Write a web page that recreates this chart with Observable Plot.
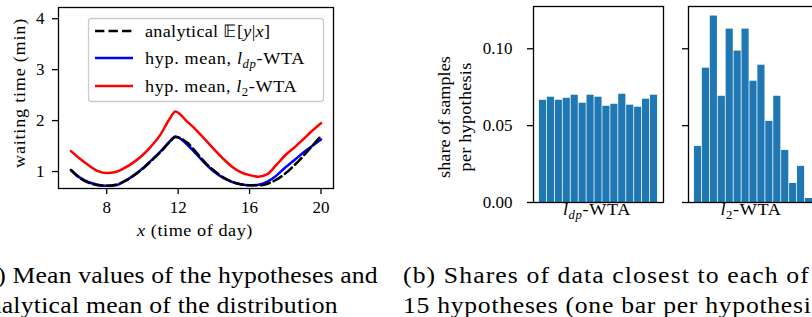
<!DOCTYPE html>
<html><head><meta charset="utf-8">
<script src="https://cdn.jsdelivr.net/npm/d3@7"></script>
<script src="https://cdn.jsdelivr.net/npm/@observablehq/plot@0.6"></script>
<style>
html,body{margin:0;padding:0;background:#fff;overflow:hidden;}
body{width:812px;height:317px;position:relative;font-family:"Liberation Serif",serif;}
.abs{position:absolute;top:0;}
svg{max-width:none !important;}
svg text{font-family:"Liberation Serif",serif !important;}
</style></head><body>
<div id="a" class="abs" style="left:0px;width:340px"></div>
<div id="b1" class="abs" style="left:400px;width:270px"></div>
<div id="b2" class="abs" style="left:640px;width:185px"></div>
<svg id="ov" class="abs" style="left:0;z-index:5" width="812" height="317"></svg>
<script>
// ---------- data ----------
const timeOfDay = [6,6.5,7,7.5,8,8.5,9,9.5,10,10.5,11,11.5,11.85,12.5,13,13.5,14,14.5,15,15.5,16,16.5,17,17.5,18,18.5,19,19.5,20];
const analyticalMean = [1.03,0.87,0.78,0.73,0.72,0.74,0.81,0.92,1.05,1.21,1.38,1.57,1.68,1.57,1.38,1.18,1.02,0.89,0.80,0.75,0.73,0.73,0.76,0.84,0.96,1.12,1.30,1.50,1.70];
const ldpHypMean = [1.03,0.88,0.79,0.74,0.72,0.73,0.81,0.92,1.06,1.22,1.39,1.58,1.69,1.53,1.35,1.16,1.00,0.88,0.80,0.75,0.73,0.74,0.80,0.92,1.08,1.22,1.37,1.50,1.63];
const l2HypMean = [1.40,1.25,1.12,1.01,0.97,0.99,1.07,1.18,1.32,1.50,1.72,2.02,2.18,1.98,1.82,1.63,1.44,1.26,1.10,0.99,0.93,0.90,0.95,1.13,1.32,1.47,1.63,1.80,1.95];
const xTicks = [8,12,16,20];
const yTicksLeft = [1,2,3,4];

const hypothesisIndex = [0,1,2,3,4,5,6,7,8,9,10,11,12,13,14];
const ldpShares = [0.0665,0.0685,0.0665,0.0678,0.0698,0.0646,0.0698,0.0685,0.0626,0.0639,0.0704,0.0633,0.0620,0.0672,0.0698];
const l2Shares = [0.0365,0.0874,0.1213,0.0691,0.1128,0.0985,0.1128,0.0789,0.0893,0.0528,0.0691,0.0339,0.0124,0.0235,0.0026];
const yTicksRight = [0, 0.05, 0.10];

const FONT = "Liberation Serif, serif";
const BAR = "#1f77b4";

// ---------- left: line chart ----------
const left = Plot.plot({
  width: 340, height: 250,
  marginLeft: 58, marginRight: 7, marginTop: 7, marginBottom: 62,
  style: {fontFamily: FONT, fontSize: "17px", color: "black", background: "transparent"},
  x: {domain: [5.3, 20.7]},
  y: {domain: [0.667, 4.22]},
  marks: [
    Plot.line(timeOfDay, {x: timeOfDay, y: ldpHypMean, stroke: "#0000ff", strokeWidth: 2.5, curve: "monotone-x"}),
    Plot.line(timeOfDay, {x: timeOfDay, y: analyticalMean, stroke: "black", strokeWidth: 2.5, strokeDasharray: "9.4,4.1", curve: "monotone-x"}),
    Plot.line(timeOfDay, {x: timeOfDay, y: l2HypMean, stroke: "#ff0000", strokeWidth: 2.5, curve: "monotone-x"}),
    Plot.axisX({ticks: xTicks, tickSize: 6, tickPadding: 6, label: null, strokeWidth: 1.3, tickFormat: d => String(d)}),
    Plot.axisY({ticks: yTicksLeft, tickSize: 6, tickPadding: 8, label: null, strokeWidth: 1.3, tickFormat: d => String(d)}),
    Plot.frame({stroke: "black", strokeWidth: 1.3})
  ]
});
document.getElementById("a").appendChild(left);

// ---------- right: bar panels ----------
function panel(shares, ml, mr, showLabels) {
  return Plot.plot({
    width: ml + 130 + mr, height: 250,
    marginLeft: ml, marginRight: mr, marginTop: 6, marginBottom: 48,
    style: {fontFamily: FONT, fontSize: "17px", color: "black", background: "transparent"},
    x: {type: "band", domain: hypothesisIndex, paddingInner: 0.1, paddingOuter: 0.745, round: false, axis: null},
    y: {domain: [0, 0.1275], axis: null},
    marks: [
      Plot.barY(shares, {x: hypothesisIndex, y: shares, fill: BAR}),
      Plot.axisY({ticks: yTicksRight, tickSize: 6, tickPadding: 15, label: null, strokeWidth: 1.3,
        tickFormat: showLabels ? d3.format(".2f") : () => ""}),
      Plot.frame({stroke: "black", strokeWidth: 1.3})
    ]
  });
}
document.getElementById("b1").appendChild(panel(ldpShares, 133, 7, true));
document.getElementById("b2").appendChild(panel(l2Shares, 48, 7, false));

// ---------- texts, legend, captions ----------
const ov = d3.select("#ov");
function measure(str, size) {
  const t = ov.append("text").style("font-size", size + "px").style("font-family", FONT).text(str);
  const w = t.node().getBBox().width; t.remove(); return w;
}
// width fitting: mild glyph stretch (max 7%) plus letter-spacing for the rest
function label(parts, {x, y, anchor = "start", rotate = 0, width = null, size = 17, fitText = null}) {
  const t = ov.append("text").attr("text-anchor", anchor)
    .style("font-size", size + "px").style("font-family", FONT).attr("fill", "black");
  let shift = 0;
  for (const p of parts) {
    const ts = t.append("tspan").text(p.t);
    if (p.it) ts.style("font-style", "italic");
    const want = p.sub ? size * 0.24 : 0;
    if (p.sub) ts.style("font-size", (size * 0.7) + "px");
    if (want !== shift) { ts.attr("dy", want - shift); shift = want; }
  }
  let s = 1;
  if (width) {
    const bw = fitText ? measure(fitText, size) : t.node().getBBox().width;
    const n = fitText ? fitText.length : t.node().textContent.length;
    s = Math.min(width / bw, 1.07);
    const ls = (width / s - bw) / n;
    t.style("letter-spacing", ls + "px");
  }
  t.attr("transform", `translate(${x},${y}) rotate(${rotate}) scale(${s},1)`);
  return t;
}

// axis labels
label([{t: "x", it: true}, {t: " (time of day)"}], {x: 195, y: 236, anchor: "middle", width: 117});
label([{t: "waiting time (min)"}], {x: 25, y: 93, anchor: "middle", rotate: -90, width: 150});
label([{t: "share of samples"}], {x: 450, y: 117, anchor: "middle", rotate: -90, width: 122});
label([{t: "per hypothesis"}], {x: 471, y: 117, anchor: "middle", rotate: -90, width: 109});
label([{t: "l", it: true}, {t: "dp", it: true, sub: true}, {t: "-WTA"}], {x: 597, y: 215, anchor: "middle", width: 69});
label([{t: "l", it: true}, {t: "2", sub: true}, {t: "-WTA"}], {x: 751, y: 215, anchor: "middle", width: 62});

// legend
ov.append("rect").attr("x", 88.5).attr("y", 18.5).attr("width", 235).attr("height", 83).attr("rx", 3)
  .attr("fill", "white").attr("fill-opacity", 0.8).attr("stroke", "#cccccc").attr("stroke-width", 1.3);
const legendRows = [
  {y: 31, stroke: "black", dash: "9.4,4.1", parts: [{t: "analytical "}, {t: "\u{1D53C}"}, {t: "["}, {t: "y", it: true}, {t: "|"}, {t: "x", it: true}, {t: "]"}], w: 125},
  {y: 58, stroke: "#0000ff", dash: null, parts: [{t: "hyp. mean, "}, {t: "l", it: true}, {t: "dp", it: true, sub: true}, {t: "-WTA"}], w: 161},
  {y: 86, stroke: "#ff0000", dash: null, parts: [{t: "hyp. mean, "}, {t: "l", it: true}, {t: "2", sub: true}, {t: "-WTA"}], w: 153}
];
for (const r of legendRows) {
  const ln = ov.append("line").attr("x1", 95).attr("x2", 133).attr("y1", r.y).attr("y2", r.y)
    .attr("stroke", r.stroke).attr("stroke-width", 2.5);
  if (r.dash) ln.attr("stroke-dasharray", r.dash);
  label(r.parts, {x: 145, y: r.y + 5.5, width: r.w});
}

// captions
const CAP = 24;
label([{t: "(a) Mean values of the hypotheses and"}], {x: -23, y: 282.5, size: CAP, width: 401});
label([{t: "analytical mean of the distribution"}], {x: -23, y: 313, size: CAP, width: 361});
label([{t: "(b) Shares of data closest to each of"}], {x: 403, y: 282.5, size: CAP, width: 407});
label([{t: "15 hypotheses (one bar per hypothesis)"}], {x: 403, y: 313, size: CAP, width: 409, fitText: "15 hypotheses (one bar per hypothesi"});
</script>
</body></html>
